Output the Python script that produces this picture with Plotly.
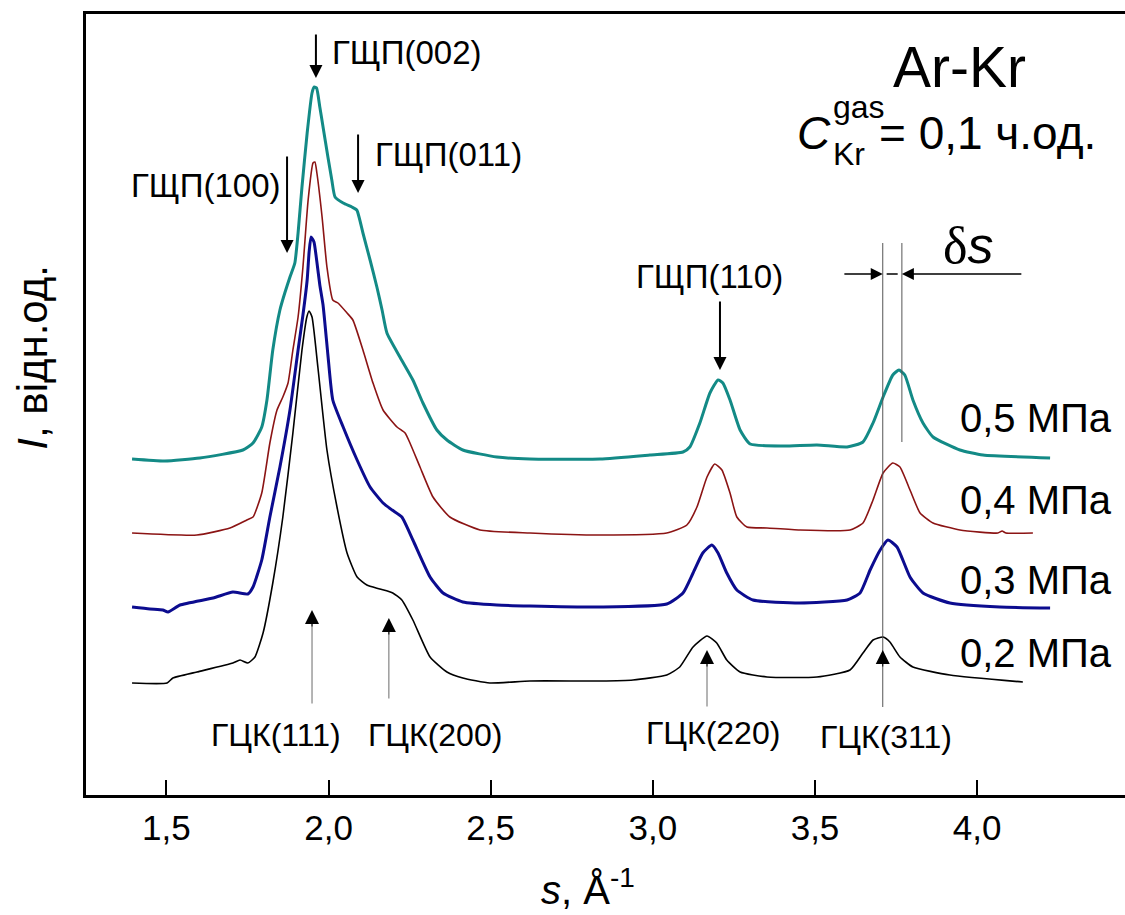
import plotly.graph_objects as go

# ---------------- data (s in 1/Å, intensity in relative units) ----------------
S_05 = [1.394, 1.495, 1.603, 1.736, 1.767, 1.794, 1.810, 1.828, 1.850, 1.865, 1.881, 1.896, 1.906, 1.918,
        1.934, 1.949, 1.956, 1.963, 1.973, 1.983, 1.998, 2.010, 2.020, 2.045, 2.072, 2.087, 2.106, 2.128,
        2.149, 2.165, 2.180, 2.220, 2.260, 2.291, 2.334, 2.365, 2.414, 2.519, 2.621, 2.837, 2.991, 3.093,
        3.114, 3.145, 3.176, 3.201, 3.216, 3.238, 3.269, 3.300, 3.402, 3.506, 3.599, 3.648, 3.679, 3.710,
        3.740, 3.759, 3.777, 3.802, 3.833, 3.864, 3.947, 4.018, 4.225]
I_05 = [336, 334, 337, 345, 352, 368, 395, 445, 485, 502, 518, 532, 562, 608,
        662, 702, 708, 707, 688, 668, 638, 615, 598, 592, 588, 585, 562, 535,
        508, 485, 462, 438, 415, 392, 365, 355, 345, 338, 336, 336, 340, 343,
        348, 372, 402, 415, 412, 395, 365, 351, 349, 350, 348, 353, 372, 398,
        420, 425, 420, 395, 372, 358, 345, 340, 337]

S_04 = [1.394, 1.594, 1.696, 1.748, 1.767, 1.794, 1.819, 1.841, 1.859, 1.875, 1.890, 1.906, 1.921, 1.937,
        1.952, 1.958, 1.964, 1.980, 1.995, 2.013, 2.029, 2.057, 2.075, 2.106, 2.137, 2.168, 2.211, 2.236,
        2.251, 2.282, 2.322, 2.374, 2.467, 2.621, 2.837, 3.043, 3.105, 3.136, 3.167, 3.191, 3.213, 3.238,
        3.259, 3.290, 3.352, 3.453, 3.608, 3.648, 3.679, 3.710, 3.740, 3.762, 3.793, 3.824, 3.864, 3.947,
        4.064, 4.077, 4.089, 4.172]
I_04 = [262, 260, 267, 275, 278, 302, 352, 385, 398, 412, 445, 478, 528, 595,
        632, 633, 622, 578, 528, 495, 492, 482, 475, 445, 412, 385, 368, 362,
        352, 328, 298, 278, 265, 262, 260, 262, 270, 288, 318, 331, 325, 302,
        278, 268, 267, 265, 265, 272, 295, 322, 332, 328, 305, 282, 272, 265,
        262, 264, 262, 262]

S_03 = [1.394, 1.449, 1.489, 1.505, 1.542, 1.644, 1.705, 1.751, 1.767, 1.794, 1.819, 1.850, 1.881, 1.906,
        1.921, 1.934, 1.940, 1.946, 1.955, 1.964, 1.973, 1.983, 1.998, 2.013, 2.045, 2.088, 2.128, 2.168,
        2.196, 2.226, 2.260, 2.313, 2.353, 2.414, 2.519, 2.621, 2.837, 3.043, 3.093, 3.124, 3.154, 3.182,
        3.201, 3.228, 3.259, 3.309, 3.453, 3.599, 3.639, 3.670, 3.701, 3.725, 3.753, 3.793, 3.833, 3.916,
        4.070, 4.225]
I_03 = [188, 186, 185, 183, 190, 197, 203, 201, 208, 235, 278, 328, 385, 445,
        480, 515, 543, 558, 553, 533, 510, 490, 440, 395, 368, 335, 308, 292,
        285, 278, 255, 218, 202, 193, 190, 189, 188, 191, 202, 222, 242, 250,
        242, 222, 205, 195, 192, 195, 202, 225, 245, 255, 248, 218, 202, 192,
        188, 187]

S_02 = [1.394, 1.502, 1.520, 1.594, 1.705, 1.727, 1.751, 1.773, 1.798, 1.828, 1.859, 1.890, 1.918, 1.933,
        1.940, 1.949, 1.967, 1.995, 2.026, 2.057, 2.088, 2.118, 2.158, 2.198, 2.226, 2.260, 2.313, 2.365,
        2.414, 2.497, 2.621, 2.837, 2.939, 3.043, 3.083, 3.124, 3.167, 3.197, 3.228, 3.269, 3.352, 3.506,
        3.608, 3.648, 3.679, 3.710, 3.731, 3.762, 3.802, 3.916, 4.141]
I_02 = [112, 112, 117, 123, 132, 135, 132, 138, 162, 212, 278, 362, 445, 478,
        484, 478, 428, 345, 288, 242, 218, 210, 206, 202, 195, 175, 138, 123,
        117, 112, 114, 114, 115, 120, 128, 148, 159, 152, 135, 123, 118, 118,
        125, 142, 155, 158, 153, 138, 128, 120, 113]

PRESSURES = ["0,5 МПа", "0,4 МПа", "0,3 МПа", "0,2 МПа"]
X_TICKS = [1.5, 2.0, 2.5, 3.0, 3.5, 4.0]

# ---------------- styling ----------------
FONT = "Liberation Sans, Arial, sans-serif"
series = [
    (S_05, I_05, "#138a86", 3.0),
    (S_04, I_04, "#8b1414", 1.6),
    (S_03, I_03, "#0c0c8f", 3.0),
    (S_02, I_02, "#000000", 1.6),
]

fig = go.Figure()
for (sx, iy, col, w), name in zip(series, PRESSURES):
    fig.add_trace(go.Scatter(x=sx, y=iy, mode="lines", name=name,
                             line=dict(color=col, width=w, shape="spline", smoothing=0.5),
                             showlegend=False))

ann = []

def text(x, y, t, size, xanchor="center", yanchor="middle", family=FONT, xref="x", yref="y", angle=0):
    ann.append(dict(x=x, y=y, xref=xref, yref=yref, text=t, showarrow=False,
                    xanchor=xanchor, yanchor=yanchor, textangle=angle,
                    font=dict(family=family, size=size, color="black")))

def arrow(x, y, ax, ay, color="black", width=2, size=1.3, head=2):
    ann.append(dict(x=x, y=y, ax=ax, ay=ay, xref="x", yref="y", axref="x", ayref="y",
                    text="", showarrow=True, arrowhead=head, arrowsize=size, arrowwidth=width,
                    arrowcolor=color, standoff=0, startstandoff=0))

# HCP labels (down arrows)
arrow(1.961, 717, 1.961, 762)
text(2.004, 743, "ГЩП(002)", 33, xanchor="left")
arrow(2.091, 602, 2.091, 662)
text(2.137, 641, "ГЩП(011)", 33, xanchor="left")
arrow(1.872, 542, 1.872, 640)
text(1.860, 610, "ГЩП(100)", 33, xanchor="right")
arrow(3.207, 425, 3.207, 495)
text(3.176, 519, "ГЩП(110)", 33)

# FCC labels (up arrows): thin grey stems with black heads
for sx, y_head, y_tail in [(1.949, 185, 90), (2.186, 177, 95), (3.167, 145, 87)]:
    arrow(sx, y_head - 10, sx, y_tail, color="#6a6a6a", width=1, size=1, head=0)
for sx, y_head in [(1.949, 185), (2.186, 177), (3.167, 145), (3.709, 145)]:
    arrow(sx, y_head, sx, y_head - 18, color="black", width=1, size=2.8)
text(1.838, 60, "ГЦК(111)", 32)
text(2.328, 60, "ГЦК(200)", 32)
text(3.185, 62, "ГЦК(220)", 32)
text(3.718, 58, "ГЦК(311)", 32)

# delta s marker
arrow(3.709, 521, 3.586, 521, width=1.5, size=1.6)
arrow(3.768, 521, 4.141, 521, width=1.5, size=1.6)
ann.append(dict(x=3.972, y=550, xref="x", yref="y", showarrow=False, xanchor="center", yanchor="middle",
                text="δ<span style='font-family:Liberation Sans, Arial'><i>s</i></span>",
                font=dict(family="Liberation Serif, Times New Roman, serif", size=52, color="black")))

# pressure labels
for lab, yv in zip(PRESSURES, [377, 295, 215, 142]):
    text(4.422, yv, lab, 40, xanchor="right")

# title block
text(3.947, 728, "Ar-Kr", 57)
text(3.438, 662, "<i>C</i>", 46, xanchor="left")
text(3.548, 688, "gas", 32, xanchor="left")
text(3.548, 641, "Kr", 32, xanchor="left")
text(3.691, 662, "= 0,1 ч.од.", 46, xanchor="left")

# axis titles
text(-0.051, 0.56, "<i>I</i>, відн.од.", 42, xref="paper", yref="paper", angle=-90)
text(0.483, -0.118, "<i>s</i>, Å<sup>-1</sup>", 40, xref="paper", yref="paper")

shapes = [
    dict(type="line", xref="x", yref="y", x0=3.709, x1=3.709, y0=88, y1=552, line=dict(color="#555555", width=1)),
    dict(type="line", xref="x", yref="y", x0=3.768, x1=3.768, y0=353, y1=552, line=dict(color="#555555", width=1)),
    dict(type="line", xref="x", yref="y", x0=3.721, x1=3.755, y0=521, y1=521, line=dict(color="black", width=1.5)),
]

fig.update_layout(
    width=1125, height=915,
    margin=dict(l=86, r=0, t=14, b=120),
    paper_bgcolor="white", plot_bgcolor="white",
    separators=", ",
    font=dict(family=FONT, color="black"),
    annotations=ann, shapes=shapes,
    xaxis=dict(range=[1.252, 4.456], tickvals=X_TICKS, tickformat=".1f",
               ticks="inside", ticklen=15, tickwidth=2, tickcolor="black",
               showline=True, linewidth=3, linecolor="black", mirror=True,
               showgrid=False, zeroline=False, tickfont=dict(size=35, family=FONT),
               ticklabelstandoff=0),
    yaxis=dict(range=[0, 781], showticklabels=False, ticks="", showgrid=False, zeroline=False,
               showline=True, linewidth=3, linecolor="black"),
)

fig.write_html("out.html")
